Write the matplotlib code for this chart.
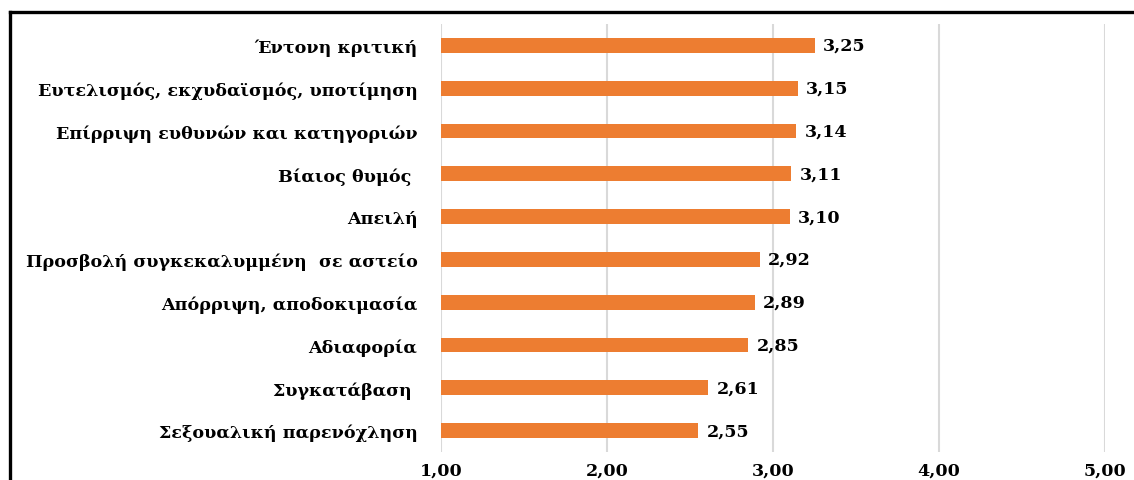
import matplotlib
matplotlib.use("Agg")
import matplotlib.pyplot as plt
from matplotlib.lines import Line2D

categories = [
    "Έντονη κριτική",
    "Ευτελισμός, εκχυδαϊσμός, υποτίμηση",
    "Επίρριψη ευθυνών και κατηγοριών",
    "Βίαιος θυμός ",
    "Απειλή",
    "Προσβολή συγκεκαλυμμένη  σε αστείο",
    "Απόρριψη, αποδοκιμασία",
    "Αδιαφορία",
    "Συγκατάβαση ",
    "Σεξουαλική παρενόχληση",
]
values = [3.25, 3.15, 3.14, 3.11, 3.10, 2.92, 2.89, 2.85, 2.61, 2.55]
xticks = [1, 2, 3, 4, 5]
xtick_labels = ["1,00", "2,00", "3,00", "4,00", "5,00"]

plt.rcParams['font.family'] = ['DejaVu Serif', 'Liberation Serif']
FS = 12.6
fig = plt.figure(figsize=(11.34, 4.81), dpi=100)
ax = fig.add_axes([441/1134, 1 - 453/481, (1105 - 441)/1134, (453 - 25)/481])

ypos = list(range(len(categories)))[::-1]
ax.barh(ypos, values, height=0.35, color="#ED7D31", zorder=3)
for y, v in zip(ypos, values):
    ax.text(v + 0.05, y, f"{v:.2f}".replace(".", ","), va="center", ha="left",
            fontsize=FS, fontweight="bold", color="black")

ax.set_xlim(1, 5)
ax.set_ylim(-0.5, len(categories) - 0.5)
ax.set_yticks(ypos)
ax.set_yticklabels(categories, fontsize=FS, fontweight="bold", color="black")
ax.set_xticks(xticks)
ax.set_xticklabels(xtick_labels, fontsize=FS, fontweight="bold", color="black")
ax.tick_params(axis="both", length=0)
ax.tick_params(axis="y", pad=17)
ax.tick_params(axis="x", pad=7)
ax.grid(axis="x", color="#D9D9D9", linewidth=1.5, zorder=0)
for s in ax.spines.values():
    s.set_visible(False)

# outer frame (left and top)
fig.add_artist(Line2D([10/1134, 10/1134], [0, 1 - 13/481], color="black", linewidth=2.4,
                      transform=fig.transFigure))
fig.add_artist(Line2D([10/1134, 1], [1 - 13/481, 1 - 13/481], color="black", linewidth=2.4,
                      transform=fig.transFigure))

fig.savefig("out.png", dpi=100, facecolor="white")
